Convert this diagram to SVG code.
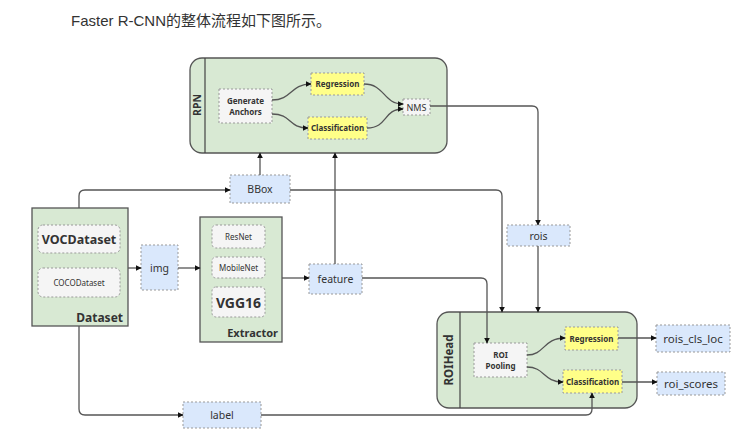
<svg xmlns="http://www.w3.org/2000/svg" width="746" height="439" viewBox="0 0 746 439">
<defs>
<marker id="ah" viewBox="0 0 10 10" refX="9" refY="5" markerWidth="6" markerHeight="6" markerUnits="userSpaceOnUse" orient="auto">
<path d="M0,0 L10,5 L0,10 Z" fill="#111"/>
</marker>
<style>
text{font-family:"Noto Sans","Open Sans","Liberation Sans",sans-serif;fill:#333;}
.grp{fill:#d8e9d3;stroke:#555;stroke-width:1.3;}
.div{stroke:#444;stroke-width:1.2;fill:none;}
.blue{fill:#dae8fc;stroke:#999;stroke-width:1;stroke-dasharray:2,2;}
.yel{fill:#ffff88;stroke:#999;stroke-width:1;stroke-dasharray:2,2;}
.wht{fill:#f5f5f5;stroke:#999;stroke-width:1;stroke-dasharray:2,2;}
.c{fill:none;stroke:#555;stroke-width:1.3;marker-end:url(#ah);}
.b{font-weight:bold;}
</style>
</defs>
<rect width="746" height="439" fill="#fff"/>
<text x="71" y="26" font-size="15" style="font-family:'Liberation Sans','Noto Sans CJK SC',sans-serif">Faster R-CNN的整体流程如下图所示。</text>

<g id="RPN">
<rect class="grp" x="190" y="58" width="257" height="95" rx="12"/>
<line class="div" x1="205" y1="58" x2="205" y2="153"/>
<text class="b" font-size="10.5" text-anchor="middle" transform="translate(201,105) rotate(-90)">RPN</text>
</g>
<g id="GenerateAnchors">
<rect class="wht" x="219" y="89" width="53" height="34"/>
<text class="b" font-size="8" text-anchor="middle" x="245.5" y="104">Generate</text>
<text class="b" font-size="8" text-anchor="middle" x="245.5" y="115">Anchors</text>
</g>
<g id="RPNRegression">
<rect class="yel" x="311" y="73" width="53" height="22"/>
<text class="b" font-size="8" text-anchor="middle" x="337.5" y="87">Regression</text>
</g>
<g id="RPNClassification">
<rect class="yel" x="308" y="117" width="59" height="22"/>
<text class="b" font-size="8" text-anchor="middle" x="337.5" y="131">Classification</text>
</g>
<g id="NMS">
<rect class="wht" x="403" y="99" width="27" height="16"/>
<text font-size="9" text-anchor="middle" x="416.5" y="110.5">NMS</text>
</g>

<g id="Dataset">
<rect class="grp" x="32" y="208" width="96" height="118" rx="0"/>
<text class="b" font-size="12" text-anchor="end" x="123" y="322">Dataset</text>
</g>
<g id="VOCDataset">
<rect class="wht" x="38" y="225" width="82" height="28" rx="5"/>
<text class="b" font-size="12.5" text-anchor="middle" x="79" y="244">VOCDataset</text>
</g>
<g id="COCODataset">
<rect class="wht" x="38" y="268" width="82" height="29" rx="5"/>
<text font-size="8" text-anchor="middle" x="79" y="286">COCODataset</text>
</g>

<g id="img">
<rect class="blue" x="141" y="245" width="37" height="45"/>
<text font-size="10.5" text-anchor="middle" x="159.5" y="272">img</text>
</g>

<g id="Extractor">
<rect class="grp" x="200" y="217" width="82" height="125"/>
<text class="b" font-size="11" text-anchor="end" x="278" y="337">Extractor</text>
</g>
<g id="ResNet">
<rect class="wht" x="212" y="225" width="53" height="23" rx="4"/>
<text font-size="8" text-anchor="middle" x="238.5" y="240">ResNet</text>
</g>
<g id="MobileNet">
<rect class="wht" x="212" y="257" width="53" height="21" rx="4"/>
<text font-size="8" text-anchor="middle" x="238.5" y="271">MobileNet</text>
</g>
<g id="VGG16">
<rect class="wht" x="212" y="287" width="53" height="30" rx="4"/>
<text class="b" font-size="14" text-anchor="middle" x="238.5" y="307.5">VGG16</text>
</g>

<g id="BBox">
<rect class="blue" x="230" y="175" width="60" height="28"/>
<text font-size="10.5" text-anchor="middle" x="260" y="193">BBox</text>
</g>
<g id="feature">
<rect class="blue" x="309" y="264" width="53" height="30"/>
<text font-size="10.5" text-anchor="middle" x="335.5" y="283">feature</text>
</g>
<g id="rois">
<rect class="blue" x="507" y="225" width="63" height="21"/>
<text font-size="10.5" text-anchor="middle" x="538.5" y="239.5">rois</text>
</g>
<g id="label">
<rect class="blue" x="183" y="402" width="78" height="26"/>
<text font-size="10.5" text-anchor="middle" x="222" y="419">label</text>
</g>

<g id="ROIHead">
<rect class="grp" x="437" y="312" width="200" height="96" rx="12"/>
<line class="div" x1="460" y1="312" x2="460" y2="408"/>
<text class="b" font-size="11.5" text-anchor="middle" transform="translate(453,360) rotate(-90)">ROIHead</text>
</g>
<g id="ROIPooling">
<rect class="wht" x="474" y="343" width="53" height="34"/>
<text class="b" font-size="8" text-anchor="middle" x="500.5" y="358">ROI</text>
<text class="b" font-size="8" text-anchor="middle" x="500.5" y="369">Pooling</text>
</g>
<g id="ROIRegression">
<rect class="yel" x="565" y="327" width="53" height="23"/>
<text class="b" font-size="8" text-anchor="middle" x="591.5" y="341.5">Regression</text>
</g>
<g id="ROIClassification">
<rect class="yel" x="563" y="370" width="59" height="23"/>
<text class="b" font-size="8" text-anchor="middle" x="592.5" y="384.5">Classification</text>
</g>
<g id="rois_cls_loc">
<rect class="blue" x="656" y="325" width="74" height="27"/>
<text font-size="11.5" text-anchor="middle" x="693" y="342.5">rois_cls_loc</text>
</g>
<g id="roi_scores">
<rect class="blue" x="657" y="372" width="68" height="23"/>
<text font-size="11.5" text-anchor="middle" x="691" y="387.5">roi_scores</text>
</g>

<g id="connectors">
<path class="c" d="M79,208 V196 Q79,190 85,190 H230"/>
<path class="c" d="M260,175 V153"/>
<path class="c" d="M290,190 H496 Q502,190 502,196 V312"/>
<path class="c" d="M128,268 H141"/>
<path class="c" d="M178,268 H200"/>
<path class="c" d="M282,278 H309"/>
<path class="c" d="M335,264 V153"/>
<path class="c" d="M362,278 H481 Q487,278 487,284 V343"/>
<path class="c" d="M430,106 H532 Q538,106 538,112 V225"/>
<path class="c" d="M538,246 V312"/>
<path class="c" d="M79,326 V409 Q79,415 85,415 H183"/>
<path class="c" d="M261,415 H586 Q592,415 592,409 V393"/>
<path class="c" d="M618,338 H656"/>
<path class="c" d="M622,382 H657"/>
<path class="c" d="M272,100 C292,100 290,84 311,84"/>
<path class="c" d="M272,114 C292,114 288,128 308,128"/>
<path class="c" d="M364,84 C385,84 383,104 403,104"/>
<path class="c" d="M367,128 C388,128 383,109 403,109"/>
<path class="c" d="M527,355 C545,355 543,338 565,338"/>
<path class="c" d="M527,367 C545,367 543,382 563,382"/>
</g>
</svg>
